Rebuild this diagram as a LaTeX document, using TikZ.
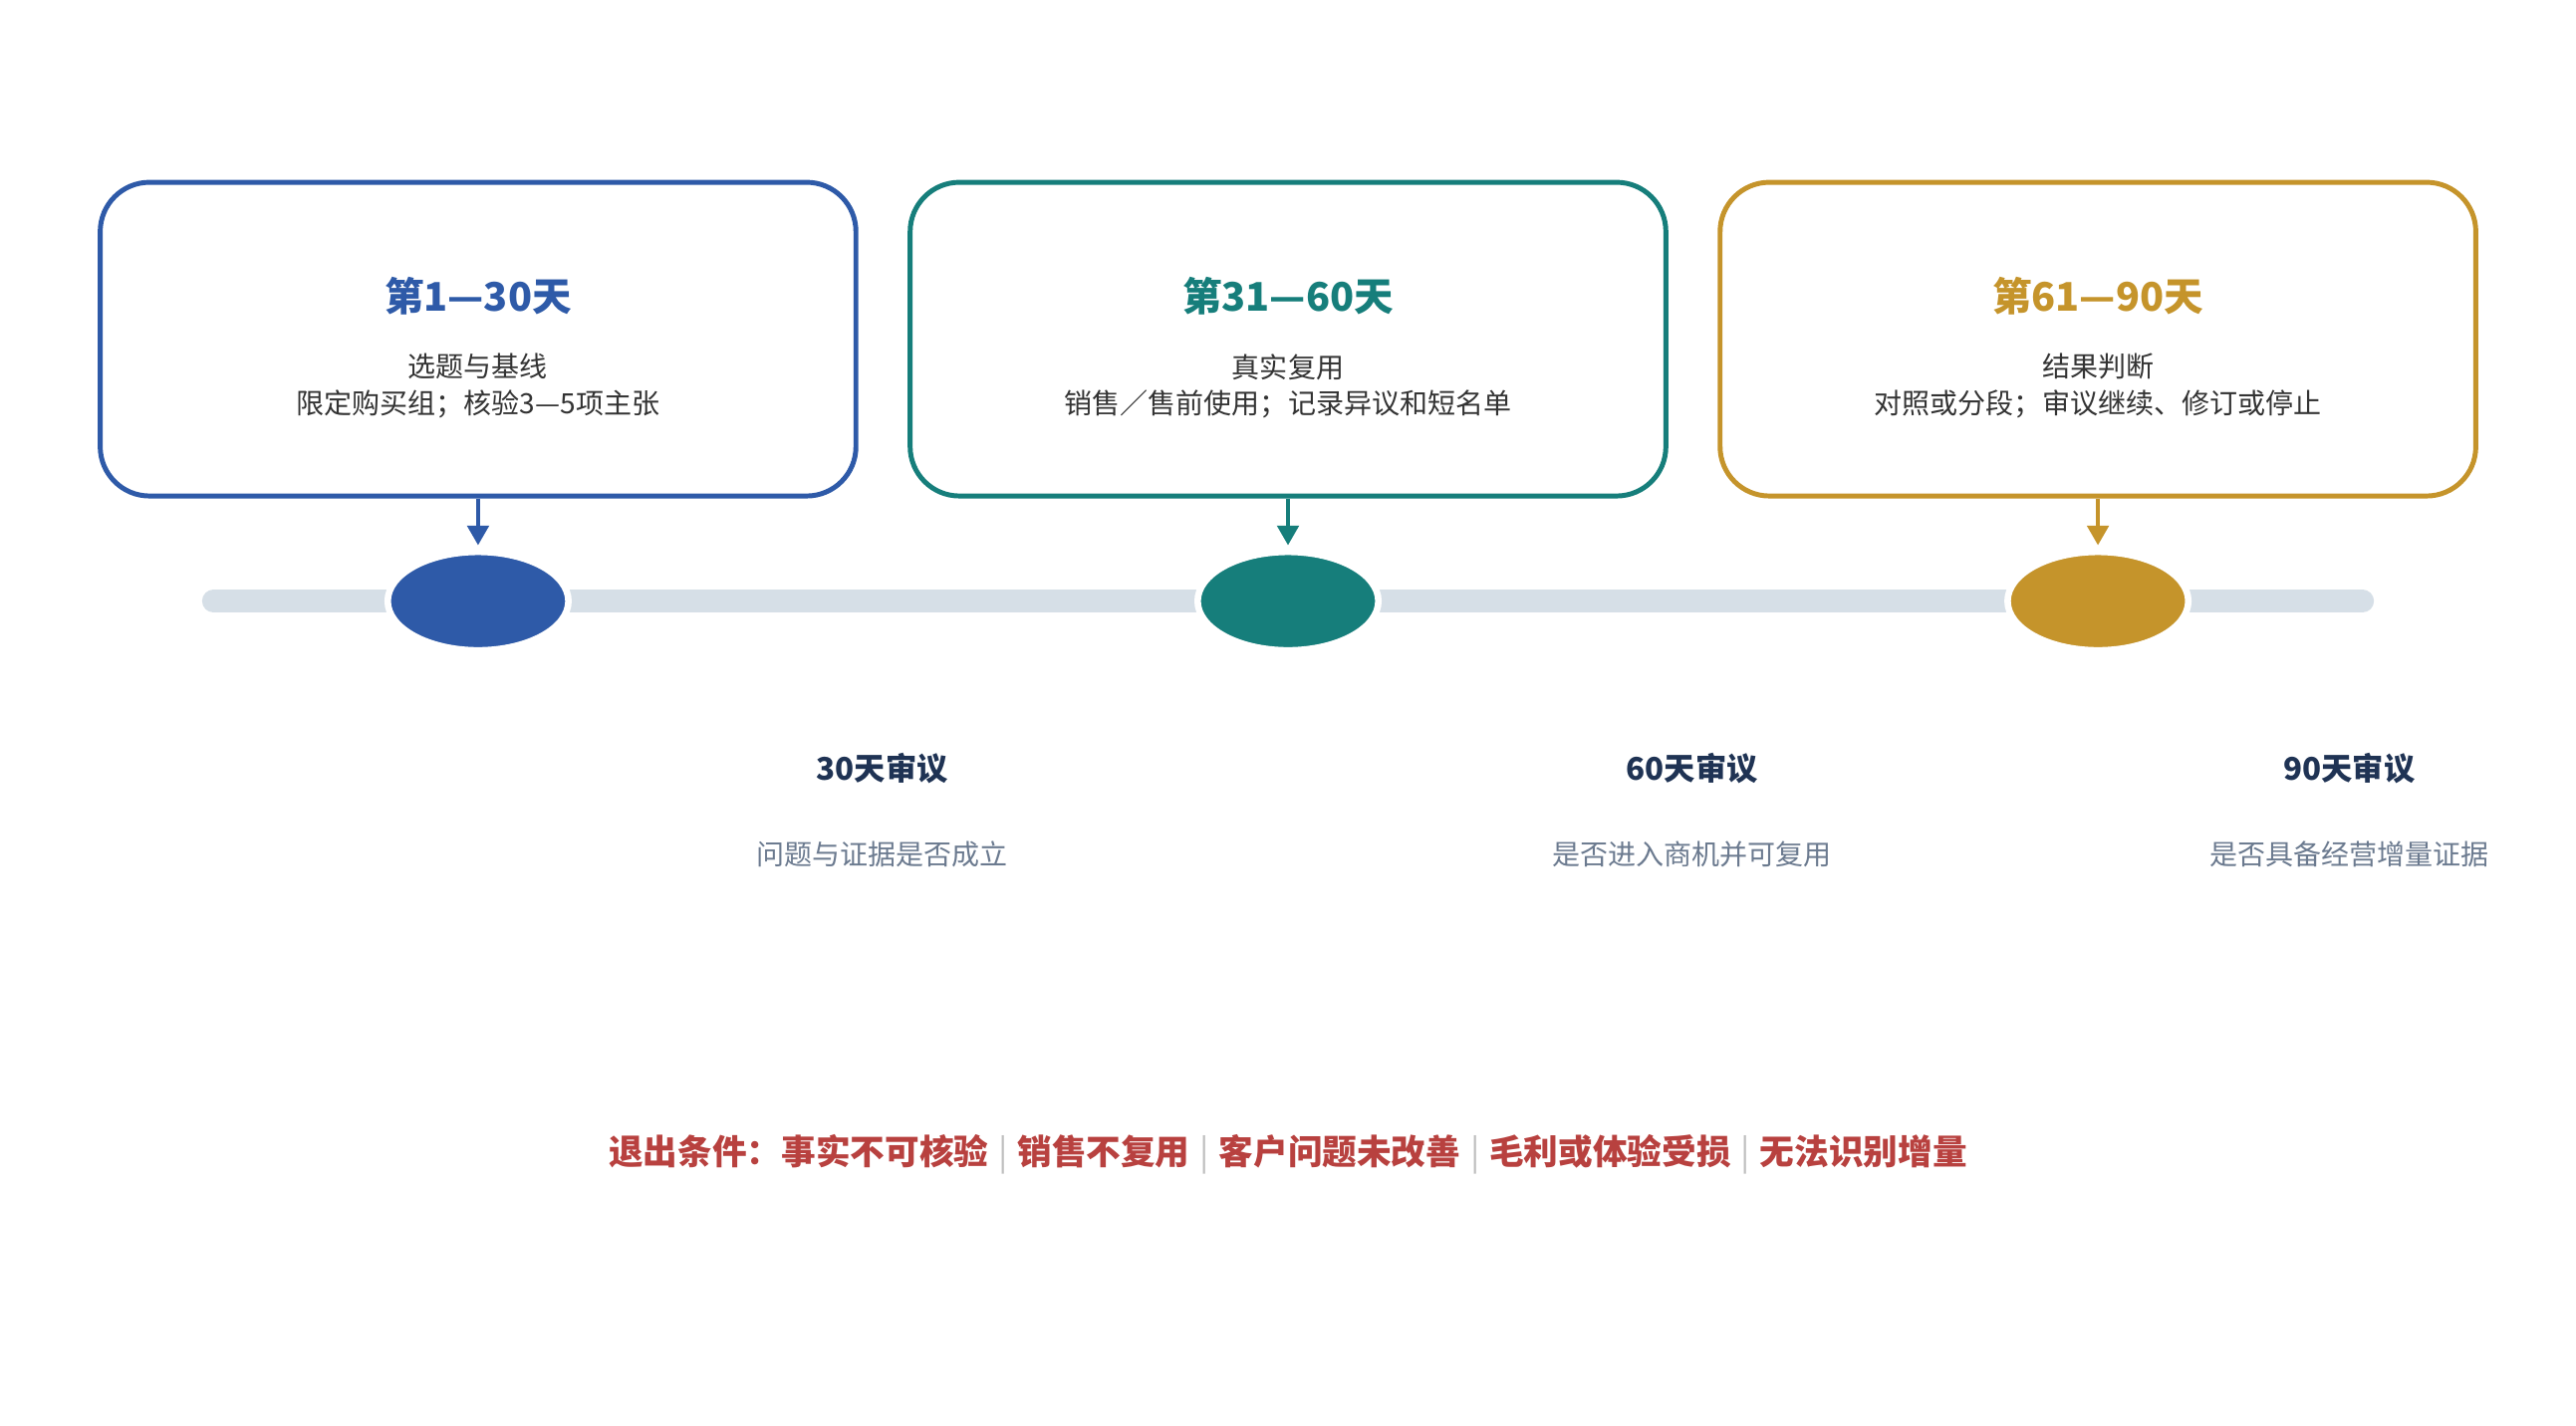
\documentclass[tikz,border=0pt]{standalone}
\usepackage{fontspec}
\setmainfont{Noto Sans CJK SC}
\usetikzlibrary{positioning,shapes.geometric,arrows.meta}
\definecolor{cblue}{HTML}{2E5AA8}
\definecolor{cteal}{HTML}{167E7B}
\definecolor{cgold}{HTML}{C5942B}
\definecolor{cbar}{HTML}{D6DFE7}
\definecolor{cnavy}{HTML}{1F3354}
\definecolor{cgrey}{HTML}{6B7A8F}
\definecolor{cred}{HTML}{B8413F}
\newcommand{\sepbar}{\hspace{6pt}\textcolor{black!25}{\normalfont|}\hspace{6pt}}
\begin{document}
\begin{tikzpicture}[x=1pt,y=-1pt]
\tikzstyle{phase}=[draw,line width=3pt,rounded corners=30pt,minimum width=460pt,minimum height=191pt,fill=white,align=center]
\tikzstyle{title}=[font=\fontsize{24}{28}\selectfont\bfseries]
\tikzstyle{body}=[font=\fontsize{17}{22}\selectfont,text=black!80,align=center]
\tikzstyle{dot}=[ellipse,draw=white,line width=4pt,minimum width=110pt,minimum height=60pt]
\tikzstyle{review}=[font=\fontsize{19}{23}\selectfont\bfseries,text=cnavy]
\tikzstyle{question}=[font=\fontsize{17}{21}\selectfont,text=cgrey]
\tikzstyle{link}=[line width=2.5pt,-{Triangle[length=12pt,width=13pt]}]

\useasboundingbox (0,0) rectangle (1568,868);

% timeline
\draw [cbar,line width=14pt,line cap=round] (130,366) -- (1438,366);

% phases
\node (P1) [phase,draw=cblue] at (291,206.5) {};
\node (P2) [phase,draw=cteal] at (784,206.5) {};
\node (P3) [phase,draw=cgold] at (1277,206.5) {};

\node (T1) [title,text=cblue] at (291,180) {第1—30天};
\node (T2) [title,text=cteal] at (784,180) {第31—60天};
\node (T3) [title,text=cgold] at (1277,180) {第61—90天};

\node (B1) [body] at (291,235) {选题与基线\\限定购买组；核验3—5项主张};
\node (B2) [body] at (784,235) {真实复用\\销售／售前使用；记录异议和短名单};
\node (B3) [body] at (1277,235) {结果判断\\对照或分段；审议继续、修订或停止};

\node (D1) [dot,fill=cblue] at (291,366) {};
\node (D2) [dot,fill=cteal] at (784,366) {};
\node (D3) [dot,fill=cgold] at (1277,366) {};

\coordinate (A1) at (291,332);
\coordinate (A2) at (784,332);
\coordinate (A3) at (1277,332);
\draw [link,cblue] (P1.south) -- (A1);
\draw [link,cteal] (P2.south) -- (A2);
\draw [link,cgold] (P3.south) -- (A3);

% reviews
\node (R1) [review] at (537,468) {30天审议};
\node (R2) [review] at (1030,468) {60天审议};
\node (R3) [review] at (1430,468) {90天审议};
\node (Q1) [question] at (537,520) {问题与证据是否成立};
\node (Q2) [question] at (1030,520) {是否进入商机并可复用};
\node (Q3) [question] at (1430,520) {是否具备经营增量证据};

% exit
\node (exit) [font=\fontsize{21}{25}\selectfont\bfseries,text=cred] at (784,703)
  {退出条件：事实不可核验\sepbar 销售不复用\sepbar 客户问题未改善\sepbar 毛利或体验受损\sepbar 无法识别增量};
\end{tikzpicture}
\end{document}
